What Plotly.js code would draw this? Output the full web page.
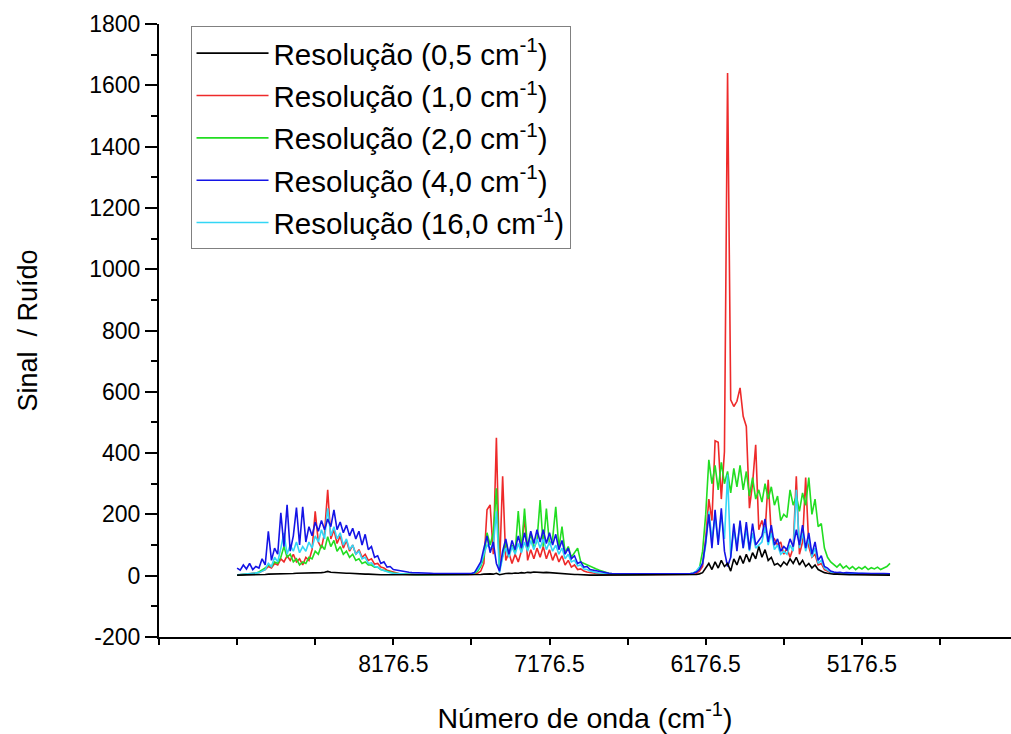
<!DOCTYPE html>
<html>
<head>
<meta charset="utf-8">
<script src="https://cdn.plot.ly/plotly-3.0.1.min.js"></script>
<style>
  html, body { margin: 0; padding: 0; background: #fff; }
  #chart { width: 1011px; height: 734px; }
</style>
</head>
<body>
<div id="chart"></div>
<script>
// Wavenumber (cm-1), shared by all series
const wavenumber = [
  9176.5,9156.5,9136.5,9116.5,9096.5,9076.5,9056.5,9036.5,9016.5,8996.5,
  8976.5,8956.5,8936.5,8916.5,8896.5,8876.5,8856.5,8836.5,8816.5,8796.5,
  8776.5,8756.5,8736.5,8716.5,8696.5,8676.5,8656.5,8636.5,8616.5,8596.5,
  8576.5,8556.5,8536.5,8516.5,8496.5,8476.5,8456.5,8436.5,8416.5,8396.5,
  8376.5,8356.5,8336.5,8316.5,8296.5,8276.5,8256.5,8236.5,8216.5,8196.5,
  8176.5,8156.5,8136.5,8116.5,8096.5,8076.5,8056.5,8036.5,8016.5,7996.5,
  7976.5,7956.5,7936.5,7916.5,7896.5,7876.5,7856.5,7836.5,7816.5,7796.5,
  7776.5,7756.5,7736.5,7716.5,7696.5,7676.5,7656.5,7636.5,7616.5,7596.5,
  7576.5,7556.5,7536.5,7516.5,7496.5,7476.5,7456.5,7436.5,7416.5,7396.5,
  7376.5,7356.5,7336.5,7316.5,7296.5,7276.5,7256.5,7236.5,7216.5,7196.5,
  7176.5,7156.5,7136.5,7116.5,7096.5,7076.5,7056.5,7036.5,7016.5,6996.5,
  6976.5,6956.5,6936.5,6916.5,6896.5,6876.5,6856.5,6836.5,6816.5,6796.5,
  6776.5,6756.5,6736.5,6716.5,6696.5,6676.5,6656.5,6636.5,6616.5,6596.5,
  6576.5,6556.5,6536.5,6516.5,6496.5,6476.5,6456.5,6436.5,6416.5,6396.5,
  6376.5,6356.5,6336.5,6316.5,6296.5,6276.5,6256.5,6236.5,6216.5,6196.5,
  6176.5,6156.5,6136.5,6116.5,6096.5,6076.5,6056.5,6036.5,6016.5,5996.5,
  5976.5,5956.5,5936.5,5916.5,5896.5,5876.5,5856.5,5836.5,5816.5,5796.5,
  5776.5,5756.5,5736.5,5716.5,5696.5,5676.5,5656.5,5636.5,5616.5,5596.5,
  5576.5,5556.5,5536.5,5516.5,5496.5,5476.5,5456.5,5436.5,5416.5,5396.5,
  5376.5,5356.5,5336.5,5316.5,5296.5,5276.5,5256.5,5236.5,5216.5,5196.5,
  5176.5,5156.5,5136.5,5116.5,5096.5,5076.5,5056.5,5036.5,5016.5,4996.5
];

// Signal / noise, resolution 0.5 cm-1
const res05 = [
  2,2,2,3,3,3,3,4,4,4, 5,5,5,6,6,6,7,7,7,8, 8,8,9,9,9,10,10,10,11,14,
  11,10,10,9,9,8,8,7,7,6, 6,5,5,4,4,4,3,3,3,3, 2,2,2,2,2,2,
  2,2,2,2,2,2,2,2,2,2, 2,2,2,2,2,2,2,2,2,2, 2,3,4,
  5,6,6,5,8,3,6,7,8,7, 9,8,10,9,11,10,12,11,12,10, 11,10,9,8,8,7,6,5,5,4, 4,3,3,3,2,2,2,2,2,2,
  2,2,2,2,2,2,2,2,2,2, 2,2,2,2,2,2,2,2,2,2, 2,2,2,2,2,2,2,3,4,6,
  10,25,40,20,45,25,50,30,40,15, 55,35,65,40,70,45,75,55,95,60, 85,50,60,35,40,30,45,35,55,40,
  60,35,50,30,40,25,35,20,15,10, 8,6,
  5,5,4,4,4,3,3,3,3,3,3,3,2,2,2,2,2,2,2
];

// Resolution 1.0 cm-1
const res10 = [
  2,3,3,4,5,6,8,10, 15,20,30,25,40,
  35,55,45,65,50,70,45,55,35,60,
  50,85,210,110,90,140,280,120,150,105,
  130,90,115,80,100,70,85,60,70,50,
  55,38,40,28,25,18,15,10,8,6,5,4,4,
  3,3,3,3,2,2,2,2,2,2,2,2,2,2,2,2,2,2,3,4,5,8,15,
  40,215,231,70,450,20,
  324,50,75,40,70,45,80,194,50,85, 55,90,60,95,55,85,50,75,45,65, 35,50,28,35,20,22,15,12,10,8, 6,5,4,4,
  3,3,3,3,3,3,3,3,3,3, 3,3,3,3,3,3,3,3,3,3, 3,3,3,3,3,3,4,5,8,15,
  30,120,250,180,440,435,250,405,1640,574, 552,569,613,520,487,220,300,427,150,180,
  140,313,130,120,100,110,70,90,60,90, 324,70,110,320,95,60,70,35,40,20, 15,10,
  8,7,8,6,7,6,6,5,6,5,5,5,4,5,4,4,4,4,4
];

// Resolution 2.0 cm-1
const res20 = [
  2,3,3,4,5,6,8,12, 18,25,35,30,45,
  40,60,95,60,70,45,55,35,45,40,
  60,55,80,70,100,85,127,95,115,80,
  95,70,80,60,70,50,55,40,45,35,
  35,28,28,20,18,14,12,9,7,6,5,5,4,
  4,4,3,3,3,3,3,3,3,3,3,3,3,3,3,3,3,3,4,5,8,15,30,
  60,140,100,140,285,20,
  60,110,70,100,75,211,80,219,85,140, 90,115,247,95,219,100,120,225,90,160, 75,95,60,75,90,45,40,35,30,25, 22,18,14,10,
  8,6,5,5,4,4,4,4,4,4, 4,4,4,4,4,4,4,4,4,4, 4,4,4,4,4,5,6,8,14,25,
  80,200,378,300,360,280,370,300,340,270, 350,290,360,280,340,260,320,250,280,240,
  300,250,290,230,260,180,200,190,280,230, 260,210,270,230,320,200,250,160,170,90, 60,45,
  35,28,38,25,32,22,30,20,28,22,30,20,26,22,28,20,25,30,40
];

// Resolution 4.0 cm-1
const res40 = [
  25,18,35,22,40,20,30,25, 55,35,145,50,90,
  70,205,95,231,80,130,222,100,225,110,
  160,130,175,145,180,150,185,160,215,150,
  175,140,165,130,155,120,145,100,135,85,
  95,60,65,40,45,28,30,20,18,15,14,12,11,
  10,10,9,9,8,8,8,7,7,7,6,6,6,6,5,5,5,6,6,7,10,30,45,
  90,130,75,110,40,15,
  80,120,70,115,85,130,90,140,95,145, 105,150,110,150,105,140,100,135,85,115, 70,90,55,65,40,45,28,30,20,18, 14,12,10,9,
  8,7,7,6,6,6,5,5,5,5, 5,5,5,5,5,5,5,5,5,5, 5,5,5,5,5,6,6,8,12,20,
  40,110,200,90,215,100,220,80,30,60, 170,80,180,90,175,85,170,100,115,130,
  185,110,165,100,120,80,95,85,120,95, 150,100,165,90,140,70,110,50,65,30, 25,15,
  12,10,11,9,10,9,8,9,8,8,7,8,7,7,8,7,7,6,6
];

// Resolution 16.0 cm-1
const res160 = [
  3,4,4,5,6,6,8,10, 15,20,40,30,60,
  45,90,140,70,100,80,110,75,95,80,
  110,90,130,110,150,120,220,130,160,120,
  140,100,120,85,100,70,80,55,60,40,
  42,30,28,20,16,12,10,8,7,6,5,5,4,
  4,4,4,3,3,3,3,3,3,3,3,3,3,3,3,3,3,3,4,6,10,20,35,
  70,100,90,95,210,10,
  60,90,60,95,70,105,75,110,80,115, 85,120,90,120,85,110,80,100,70,90, 55,70,45,50,32,35,22,20,15,12, 10,9,8,7,
  6,5,5,4,4,4,4,4,4,4, 4,4,4,4,4,4,4,4,4,4, 4,4,4,4,4,5,6,9,15,28,
  40,100,210,120,190,110,200,120,330,60, 150,100,170,90,150,80,140,90,100,110,
  160,100,140,85,100,70,80,70,100,80, 280,90,140,80,120,60,90,40,50,25, 18,12,
  10,9,9,8,8,8,7,7,7,7,6,6,6,6,6,6,5,5,5
];

const seriesNames = [
  'Resolução (0,5 cm<sup>-1</sup>)',
  'Resolução (1,0 cm<sup>-1</sup>)',
  'Resolução (2,0 cm<sup>-1</sup>)',
  'Resolução (4,0 cm<sup>-1</sup>)',
  'Resolução (16,0 cm<sup>-1</sup>)'
];
const xTickVals = [8176.5, 7176.5, 6176.5, 5176.5];
const xTickText = ['8176.5', '7176.5', '6176.5', '5176.5'];
const xMajorTicks = [9176.5, 8176.5, 7176.5, 6176.5, 5176.5, 4176.5];
const yTickVals = [-200, 0, 200, 400, 600, 800, 1000, 1200, 1400, 1600, 1800];
const yTickText = ['-200', '0', '200', '400', '600', '800', '1000', '1200', '1400', '1600', '1800'];

function mk(y, name, color, rank) {
  return {
    x: wavenumber, y: y, name: name, type: 'scatter', mode: 'lines',
    line: {color: color, width: 1.6}, legendgroup: 'g' + rank, legendrank: rank,
    hoverinfo: 'skip'
  };
}

// draw order: red, green, cyan, blue, black (legend order by rank)
const traces = [
  mk(res10, seriesNames[1], '#ee2a2a', 2),
  mk(res20, seriesNames[2], '#22dd22', 3),
  mk(res160, seriesNames[4], '#33d6f5', 5),
  mk(res40, seriesNames[3], '#1414e6', 4),
  mk(res05, seriesNames[0], '#000000', 1)
];

const FONT = 'Liberation Sans, Arial, Helvetica, sans-serif';
const XRANGE = [9676.5, 4222];

const layout = {
  width: 1011, height: 734,
  margin: {l: 159, r: 0, t: 24, b: 97},
  paper_bgcolor: '#ffffff', plot_bgcolor: '#ffffff',
  font: {family: FONT, color: '#000', size: 23},
  showlegend: true,
  legend: {
    x: 0.037, y: 0.996, xanchor: 'left', yanchor: 'top',
    bgcolor: '#ffffff', bordercolor: '#808080', borderwidth: 1,
    font: {family: FONT, size: 29.5, color: '#000'},
    itemwidth: 72, traceorder: 'grouped', tracegroupgap: 1
  },
  xaxis: {
    range: XRANGE, tickmode: 'array', tickvals: xTickVals, ticktext: xTickText,
    ticks: 'outside', ticklen: 5, tickwidth: 2, tickcolor: 'rgba(0,0,0,0)',
    showline: true, linewidth: 2, linecolor: '#000',
    showgrid: false, zeroline: false,
    tickfont: {family: FONT, size: 23, color: '#000'},
    minor: {tickmode: 'linear', tick0: 9176.5, dtick: 500, ticks: 'outside', ticklen: 6, tickwidth: 2, tickcolor: '#000', showgrid: false},
    title: {text: 'Número de onda (cm<sup>-1</sup>)', font: {family: FONT, size: 28.5, color: '#000'}, standoff: 38}
  },
  xaxis2: {
    range: XRANGE, overlaying: 'x', anchor: 'y', side: 'bottom',
    tickmode: 'array', tickvals: xMajorTicks, showticklabels: false,
    ticks: 'outside', ticklen: 13, tickwidth: 2, tickcolor: '#000',
    showline: false, showgrid: false, zeroline: false
  },
  yaxis: {
    range: [-200, 1800], tickmode: 'array', tickvals: yTickVals, ticktext: yTickText,
    ticks: 'outside', ticklen: 12, tickwidth: 2, tickcolor: '#000',
    showline: true, linewidth: 2, linecolor: '#000',
    showgrid: false, zeroline: false,
    tickfont: {family: FONT, size: 23, color: '#000'},
    minor: {tickmode: 'linear', tick0: -200, dtick: 100, ticks: 'outside', ticklen: 6, tickwidth: 2, tickcolor: '#000', showgrid: false},
    title: {text: 'Sinal\u00a0 / Ruído', font: {family: FONT, size: 27, color: '#000'}, standoff: 44}
  }
};

Plotly.newPlot('chart', traces, layout, {staticPlot: true, displayModeBar: false});
</script>
</body>
</html>
